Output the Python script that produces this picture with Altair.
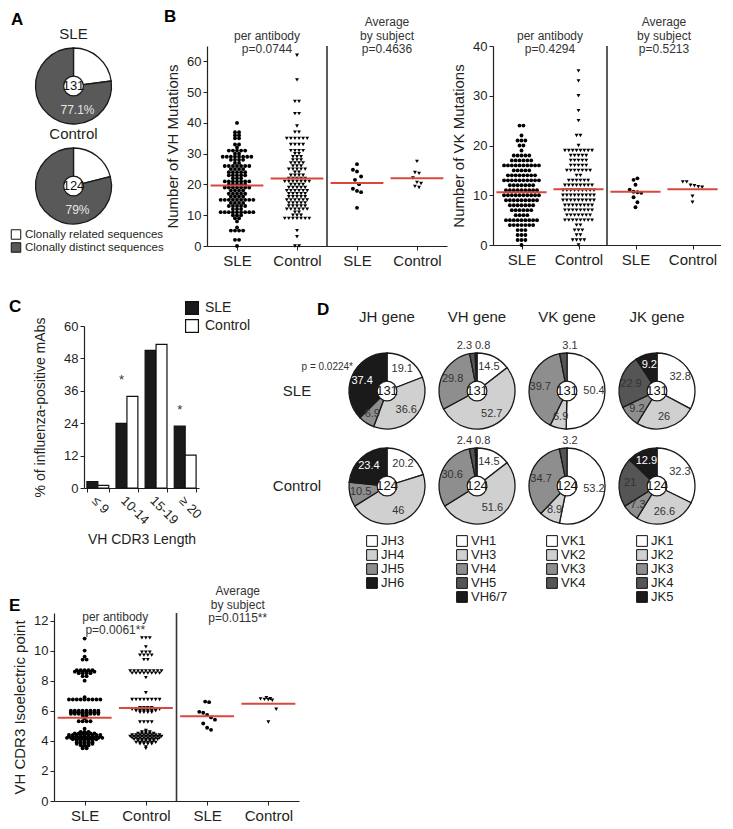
import altair as alt
import pandas as pd

FONT = "Liberation Sans"
INK = "#231f20"
RED = "#d9473e"

# ---------------- Panel A data ----------------
A_GROUPS = ["SLE", "Control"]
A_TOTALS = [131, 124]
A_SEGMENTS = ["Clonally related sequences", "Clonally distinct sequences"]
A_RELATED = [22.9, 21.0]
A_DISTINCT = [77.1, 79.0]
A_DISTINCT_LABELS = ["77.1%", "79%"]
A_COLORS = ["#ffffff", "#595959"]

# ---------------- Panel B data ----------------
CATEGORIES = ["SLE", "Control", "SLE", "Control"]

VH_SLE_LEVELS = [0, 2, 5, 6, 8, 9, 10, 11, 12, 13, 14, 15, 16, 17, 18, 19, 20, 21, 22, 23, 24,
                 25, 26, 27, 28, 29, 30, 31, 32, 33, 35, 36, 37, 40]
VH_SLE_COUNTS = [1, 2, 4, 1, 1, 2, 3, 9, 3, 5, 4, 9, 4, 5, 4, 7, 5, 7, 3, 5, 5,
                 4, 7, 2, 4, 8, 2, 5, 1, 2, 2, 2, 2, 1]
VH_CTL_LEVELS = [0, 3, 5, 9, 10, 11, 12, 13, 14, 15, 16, 17, 18, 19, 20, 21, 22, 23, 24, 25,
                 26, 27, 28, 29, 30, 31, 33, 35, 37, 39, 43, 47, 54, 62]
VH_CTL_COUNTS = [2, 1, 1, 7, 3, 2, 6, 5, 5, 6, 5, 5, 6, 5, 4, 7, 5, 4, 2, 5,
                 3, 4, 3, 3, 2, 4, 4, 6, 2, 1, 2, 2, 1, 1]
VH_AVG_SLE = [26.6, 24.8, 24.2, 22.6, 21.5, 20.1, 18.6, 17.9, 17.5, 12.4]
VH_AVG_CTL = [27.5, 23.9, 23.6, 22.1, 20.7, 20.3, 19.4, 19.0]
VH_MEANS = [19.7, 21.9, 20.5, 22.0]
VH_TITLES = [["per antibody", "p=0.0744"], ["Average", "by subject", "p=0.4636"]]

VK_SLE_LEVELS = [0, 1, 2, 3, 4, 5, 6, 7, 8, 9, 10, 11, 12, 13, 14, 15, 16, 17, 18, 19, 20, 21, 22, 24]
VK_SLE_COUNTS = [1, 3, 3, 3, 7, 9, 4, 6, 7, 9, 10, 9, 7, 10, 8, 5, 10, 6, 5, 1, 2, 3, 1, 2]
VK_CTL_LEVELS = [0, 1, 2, 3, 4, 5, 6, 7, 8, 9, 10, 11, 12, 13, 14, 15, 16, 17, 18, 19, 20,
                 22, 25, 27, 30, 33, 35]
VK_CTL_COUNTS = [1, 4, 2, 3, 2, 8, 7, 8, 8, 9, 9, 9, 8, 6, 2, 7, 5, 5, 5, 8, 1,
                 2, 1, 1, 1, 1, 1]
VK_AVG_SLE = [13.1, 13.4, 12.1, 11.1, 10.7, 10.6, 10.5, 9.6, 8.6, 7.6]
VK_AVG_CTL = [12.7, 12.7, 12.0, 11.9, 11.7, 11.6, 9.8, 8.6]
VK_MEANS = [10.6, 11.2, 10.7, 11.2]
VK_TITLES = [["per antibody", "p=0.4294"], ["Average", "by subject", "p=0.5213"]]

# ---------------- Panel C data ----------------
C_LENGTHS = ["≤ 9", "10-14", "15-19", "≥ 20"]
C_GROUPS = ["SLE", "Control"]
C_COLORS = ["#1a1a1a", "#ffffff"]
C_SLE = [2.4, 23.9, 51.0, 22.9]
C_CONTROL = [1.0, 33.9, 53.2, 12.2]
C_STARS = ["", "*", "", "*"]

# ---------------- Panel D data ----------------
D_GENES = ["JH gene", "VH gene", "VK gene", "JK gene"]
D_GROUPS = ["SLE", "Control"]
D_TOTALS = [131, 124]
JH_SEGMENTS = ["JH3", "JH4", "JH5", "JH6"]
JH_SLE = [19.1, 36.6, 6.9, 37.4]
JH_CTL = [20.2, 46, 10.5, 23.4]
VH_SEGMENTS = ["VH1", "VH3", "VH4", "VH5", "VH6/7"]
VH_SLE = [14.5, 52.7, 29.8, 2.3, 0.8]
VH_CTL = [14.5, 51.6, 30.6, 2.4, 0.8]
VK_SEGMENTS = ["VK1", "VK2", "VK3", "VK4"]
VK_SLE = [50.4, 6.9, 39.7, 3.1]
VK_CTL = [53.2, 8.9, 34.7, 3.2]
JK_SEGMENTS = ["JK1", "JK2", "JK3", "JK4", "JK5"]
JK_SLE = [32.8, 26, 9.2, 22.9, 9.2]
JK_CTL = [32.3, 26.6, 7.3, 21, 12.9]
D_PVALUE = "p = 0.0224*"

# ---------------- Panel E data ----------------
E_SLE_LEVELS = [3.5, 3.6, 3.7, 3.8, 3.9, 4.0, 4.1, 4.2, 4.3, 4.4, 4.5, 4.6, 4.8, 5.3, 5.5, 5.7,
                5.8, 5.9, 6.0, 6.75, 6.9, 8.0, 8.3, 8.5, 8.6, 8.7, 9.4, 9.6, 10.0, 10.8]
E_SLE_COUNTS = [2, 2, 3, 5, 5, 5, 7, 10, 9, 9, 6, 3, 1, 4, 1, 2,
                8, 8, 8, 9, 1, 1, 2, 4, 6, 5, 2, 1, 1, 1]
E_CTL_LEVELS = [3.5, 3.6, 3.8, 3.9, 4.0, 4.1, 4.2, 4.3, 4.4, 4.5, 4.6, 4.7, 5.25, 5.9, 6.0,
                6.1, 6.2, 6.75, 7.2, 8.2, 8.5, 8.65, 9.4, 9.7, 9.9, 10.25, 10.85]
E_CTL_COUNTS = [1, 1, 4, 6, 5, 7, 8, 9, 8, 5, 3, 1, 4, 4, 6,
                8, 4, 8, 1, 1, 8, 9, 2, 4, 3, 1, 3]
E_AVG_SLE = [6.61, 6.57, 5.93, 5.87, 5.72, 5.56, 5.41, 5.15, 4.87, 4.73]
E_AVG_CTL = [6.87, 6.80, 6.79, 6.76, 6.74, 6.70, 6.10, 5.25]
E_MEANS = [5.53, 6.18, 5.63, 6.46]
E_TITLES = [["per antibody", "p=0.0061**"], ["Average", "by subject", "p=0.0115**"]]

PANEL_LETTERS = ["A", "B", "C", "D", "E"]

WHITE, LIGHT, MID, DARK, BLACK = "#ffffff", "#d0d0d0", "#8e8e8e", "#555555", "#1a1a1a"


def expand(levels, counts):
    out = []
    for v, c in zip(levels, counts):
        out.extend([v] * c)
    return out


def text_layer(t, x, y, **kw):
    return alt.Chart(pd.DataFrame({"t": [t]})).mark_text(**kw).encode(
        x=alt.value(x), y=alt.value(y), text="t:N")


def letter_layer(t, x, y):
    return text_layer(t, x, y, align="left", baseline="top", fontSize=17, fontWeight="bold",
                      color="#000")


def spacer():
    return alt.Chart(pd.DataFrame({"t": [""]})).mark_text().encode(
        x=alt.value(0), y=alt.value(0), text="t:N").properties(width=1, height=1)


def swarm_panel(pa_sle, pa_ctl, av_sle, av_ctl, means, titles, title_y, ydomain, yticks,
                ytitle, width, height, bw_pa, bw_av, step, letter=None, size=15):
    rows = []
    for cat, vals in enumerate([pa_sle, pa_ctl, av_sle, av_ctl], start=1):
        rows += [{"cat": cat, "grp": CATEGORIES[cat - 1], "v": v} for v in vals]
    df = pd.DataFrame(rows)
    xs = alt.Scale(domain=[0.5, 4.5], nice=False, zero=False)
    ys = alt.Scale(domain=ydomain, nice=False, zero=True)
    label_expr = "[" + ",".join("'%s'" % c for c in [""] + CATEGORIES) + "][datum.value]"
    xaxis = alt.Axis(values=[1, 2, 3, 4], labelExpr=label_expr, title=None, labelFontSize=15,
                     tickSize=4, labelPadding=3, grid=False)
    yaxis = alt.Axis(values=yticks, title=ytitle, titleFontSize=15, labelFontSize=13,
                     tickSize=4, grid=False, titlePadding=6)

    sep = alt.Chart(pd.DataFrame({"sep": [2.5]})).mark_rule(color="#333", strokeWidth=1.6).encode(
        x=alt.X("sep:Q", scale=xs, axis=xaxis))

    pts = alt.Chart(df).transform_calculate(
        yb="round(datum.v / (datum.cat <= 2 ? %s : %s))" % (bw_pa, bw_av)
    ).transform_window(
        rn="row_number()", groupby=["cat", "yb"]
    ).transform_joinaggregate(
        cnt="count()", groupby=["cat", "yb"]
    ).transform_calculate(
        xp="datum.cat + (datum.rn - (datum.cnt + 1) / 2) * %s" % step
    ).mark_point(filled=True, size=size, opacity=1, color="#000").encode(
        x=alt.X("xp:Q", scale=xs, axis=xaxis),
        y=alt.Y("v:Q", scale=ys, axis=yaxis),
        shape=alt.Shape("grp:N", scale=alt.Scale(domain=["SLE", "Control"],
                                                 range=["circle", "triangle-down"]), legend=None),
    )

    mdf = pd.DataFrame({"cat": [1, 2, 3, 4], "m": means})
    rules = alt.Chart(mdf).transform_calculate(
        x1="datum.cat - 0.44", x2="datum.cat + 0.44"
    ).mark_rule(color=RED, strokeWidth=2).encode(
        x=alt.X("x1:Q", scale=xs, axis=xaxis), x2="x2:Q",
        y=alt.Y("m:Q", scale=ys, axis=yaxis))

    layers = [sep, pts, rules]
    for pos, lines, ty in zip([1.5, 3.5], titles, title_y):
        n = len(lines)
        for k, line in enumerate(lines):
            layers.append(
                alt.Chart(pd.DataFrame({"x": [pos], "t": [line]})).mark_text(
                    baseline="bottom", fontSize=12, color="#333"
                ).encode(x=alt.X("x:Q", scale=xs, axis=xaxis),
                         y=alt.value(ty - (n - 1 - k) * 13.5), text="t:N"))
    if letter is not None:
        layers.append(letter)
    return alt.layer(*layers).properties(width=width, height=height)


def pie(segments, values, colors, total, *, view_w=80, label_texts=None,
        small=(), extras=()):
    df = pd.DataFrame({"seg": segments, "value": values, "idx": list(range(len(segments)))})
    if label_texts is None:
        label_texts = ["%g" % v if v >= 4 else "" for v in values]
    df["lab"] = label_texts
    theta = alt.Theta("value:Q", stack=True)
    order = alt.Order("idx:Q")
    base = alt.Chart(df)
    arcs = base.mark_arc(outerRadius=38, stroke="#1a1a1a", strokeWidth=1.3).encode(
        theta=theta, order=order,
        color=alt.Color("seg:N", scale=alt.Scale(domain=segments, range=colors),
                        legend=None, sort=segments))
    dark = [i for i, c in enumerate(colors) if c in (BLACK,)]
    labels = base.mark_text(radius=27, fontSize=11).encode(
        theta=theta, order=order, text="lab:N",
        color=alt.condition("indexof(%s, datum.idx) >= 0" % dark, alt.value("white"),
                            alt.value("#333")))
    cdf = pd.DataFrame({"n": [str(total)]})
    circ = alt.Chart(cdf).mark_circle(size=390, color="white", stroke="#1a1a1a",
                                      strokeWidth=1.2, opacity=1).encode(tooltip="n:N")
    ctext = alt.Chart(cdf).mark_text(fontSize=13, color="#111").encode(text="n:N")
    layers = [arcs, labels, circ, ctext]
    for idx, align, dx in small:
        layers.append(alt.Chart(pd.DataFrame({"t": ["%g" % values[idx]]})).mark_text(
            align=align, dx=dx, dy=-45, fontSize=11, color="#333").encode(text="t:N"))
    for layer in extras:
        layers.append(layer)
    return alt.layer(*layers).properties(width=view_w, height=80)


def center_text(t, **kw):
    return alt.Chart(pd.DataFrame({"t": [t]})).mark_text(**kw).encode(text="t:N")


def legend_block(labels, colors, width, sw_x, row_h, sym_size, font_size, padding):
    df = pd.DataFrame({"lab": labels})
    ysc = alt.Scale(domain=labels, padding=padding)
    sq = alt.Chart(df).mark_square(size=sym_size, stroke="#111", strokeWidth=1, opacity=1).encode(
        x=alt.value(sw_x), y=alt.Y("lab:N", sort=labels, scale=ysc, axis=None),
        color=alt.Color("lab:N", scale=alt.Scale(domain=labels, range=colors), legend=None))
    tx = alt.Chart(df).mark_text(align="left", dx=9, fontSize=font_size, color=INK).encode(
        x=alt.value(sw_x), y=alt.Y("lab:N", sort=labels, scale=ysc, axis=None), text="lab:N")
    n = len(labels)
    h = row_h * (n - 1 + 2 * padding)
    return alt.layer(sq, tx).properties(width=width, height=h)


def res(c):
    return c.resolve_scale(color="independent", theta="independent", shape="independent")


# ---------------- Panel A ----------------
a_pies = []
for i in range(2):
    ex = [center_text(A_GROUPS[i], dy=-52, fontSize=15, color=INK),
          center_text(A_DISTINCT_LABELS[i], dx=4, dy=24, fontSize=12, color="#e6e6e6")]
    if i == 0:
        ex.append(letter_layer(PANEL_LETTERS[0], 0, -34))
    a_pies.append(pie(A_SEGMENTS, [A_RELATED[i], A_DISTINCT[i]], A_COLORS, A_TOTALS[i],
                      view_w=125, label_texts=["", ""], extras=ex))
a_leg = legend_block(A_SEGMENTS, A_COLORS, 140, 5, 13, 90, 11.5, 0.5)
panel_a = res(alt.vconcat(a_pies[0], a_pies[1], a_leg, spacing=0))

# ---------------- Panel B ----------------
vh = swarm_panel(expand(VH_SLE_LEVELS, VH_SLE_COUNTS), expand(VH_CTL_LEVELS, VH_CTL_COUNTS),
                 VH_AVG_SLE, VH_AVG_CTL, VH_MEANS, VH_TITLES, [10, 10], [0, 65],
                 [0, 10, 20, 30, 40, 50, 60], "Number of VH Mutations", 240, 200, 1, 3, 0.068,
                 letter_layer(PANEL_LETTERS[1], -43, -37))
vk = swarm_panel(expand(VK_SLE_LEVELS, VK_SLE_COUNTS), expand(VK_CTL_LEVELS, VK_CTL_COUNTS),
                 VK_AVG_SLE, VK_AVG_CTL, VK_MEANS, VK_TITLES, [10, 10], [0, 40],
                 [0, 10, 20, 30, 40], "Number of VK Mutations", 228, 199, 1, 1.5, 0.068)
panel_b = res(alt.hconcat(vh, vk, spacing=4))

# ---------------- Panel C ----------------
c_df = pd.DataFrame({"len": C_LENGTHS * 2, "grp": ["SLE"] * 4 + ["Control"] * 4,
                     "pct": C_SLE + C_CONTROL})
c_xs = alt.Scale(paddingInner=0.25, paddingOuter=0.1)
c_xaxis = alt.Axis(title="VH CDR3 Length", labelAngle=45, labelFontSize=13, titleFontSize=14,
                   tickBand="extent", tickSize=4, titlePadding=6)
c_yaxis = alt.Axis(values=[0, 12, 24, 36, 48, 60], title="% of influenza-positive mAbs",
                   labelFontSize=13, titleFontSize=14, tickSize=4, titlePadding=16)
c_ys = alt.Scale(domain=[0, 60], nice=False)
c_bars = alt.Chart(c_df).mark_bar(stroke="#111", strokeWidth=1.2).encode(
    x=alt.X("len:N", sort=C_LENGTHS, scale=c_xs, axis=c_xaxis),
    xOffset=alt.XOffset("grp:N", sort=C_GROUPS),
    y=alt.Y("pct:Q", scale=c_ys, axis=c_yaxis),
    color=alt.Color("grp:N", sort=C_GROUPS, scale=alt.Scale(domain=C_GROUPS, range=C_COLORS),
                    legend=None))
s_df = pd.DataFrame({"len": C_LENGTHS, "star": C_STARS,
                     "top": [max(a, b) for a, b in zip(C_SLE, C_CONTROL)], "grp": "SLE"})
c_stars = alt.Chart(s_df).transform_calculate(ys="datum.top + 6").mark_text(
    fontSize=13, color="#333", baseline="middle").encode(
    x=alt.X("len:N", sort=C_LENGTHS, scale=c_xs, axis=c_xaxis),
    xOffset=alt.XOffset("grp:N", sort=C_GROUPS),
    y=alt.Y("ys:Q", scale=c_ys, axis=c_yaxis), text="star:N")
c_layers = [c_bars, c_stars]
for i, g in enumerate(C_GROUPS):
    gdf = pd.DataFrame({"t": [g]})
    c_layers.append(alt.Chart(gdf).mark_square(size=165, color=C_COLORS[i], stroke="#111",
                                               strokeWidth=1.2, opacity=1).encode(
        x=alt.value(108), y=alt.value(-18 + 18 * i), tooltip="t:N"))
    c_layers.append(alt.Chart(gdf).mark_text(align="left", dx=13, fontSize=14, color=INK).encode(
        x=alt.value(108), y=alt.value(-18 + 18 * i), text="t:N"))
c_layers.append(letter_layer(PANEL_LETTERS[2], -75, -27))
panel_c = alt.layer(*c_layers).properties(width=115, height=162)

# ---------------- Panel D ----------------
gene_specs = [
    (JH_SEGMENTS, JH_SLE, JH_CTL, [WHITE, LIGHT, MID, BLACK], ()),
    (VH_SEGMENTS, VH_SLE, VH_CTL, [WHITE, LIGHT, MID, DARK, BLACK],
     ((3, "right", -5), (4, "left", -2))),
    (VK_SEGMENTS, VK_SLE, VK_CTL, [WHITE, LIGHT, MID, DARK], ((3, "center", 3),)),
    (JK_SEGMENTS, JK_SLE, JK_CTL, [WHITE, LIGHT, MID, DARK, BLACK], ()),
]
cols = []
for g, (segs, v_sle, v_ctl, colors, small) in enumerate(gene_specs):
    head_layers = [text_layer(D_GENES[g], 40, -9, fontSize=15, color=INK)]
    if g == 0:
        head_layers.append(letter_layer(PANEL_LETTERS[3], -30, -24))
    head = alt.layer(*head_layers).properties(width=80, height=10)
    pies = []
    for r, vals in enumerate([v_sle, v_ctl]):
        extras = []
        if g == 0:
            extras.append(center_text(D_GROUPS[r], dx=-90, fontSize=15, color=INK))
            if r == 0:
                extras.append(center_text(D_PVALUE, dx=-34, dy=-24, align="right", fontSize=10,
                                          color="#333"))
        pies.append(pie(segs, vals, colors, D_TOTALS[r], small=small, extras=extras))
    leg = legend_block(segs, colors, 80, 25, 14, 115, 13, 0)
    cols.append(res(alt.vconcat(head, pies[0], pies[1], leg, spacing=15, bounds="flush")))
panel_d = res(alt.hconcat(*cols, spacing=8))

# ---------------- Panel E ----------------
panel_e = swarm_panel(expand(E_SLE_LEVELS, E_SLE_COUNTS), expand(E_CTL_LEVELS, E_CTL_COUNTS),
                      E_AVG_SLE, E_AVG_CTL, E_MEANS, E_TITLES, [24, 12], [0, 12.5],
                      [0, 2, 4, 6, 8, 10, 12], "VH CDR3 Isoelectric point", 245, 188, 0.1, 0.8,
                      0.064, letter_layer(PANEL_LETTERS[4], -45, -15))

row1 = res(alt.hconcat(spacer(), res(alt.hconcat(panel_a, panel_b, spacing=0)), spacing=0))
row2 = res(alt.hconcat(spacer(), res(alt.hconcat(panel_c, panel_d, spacing=21)), spacing=0))
row3 = res(alt.hconcat(spacer(), panel_e, spacing=0))
upper = res(alt.vconcat(row1, row2, spacing=30))
chart = res(alt.vconcat(upper, row3, spacing=-20)).properties(
    padding={"left": 0, "top": 0, "right": 0, "bottom": 0}
).configure_view(stroke=None).configure_axis(
    labelFont=FONT, titleFont=FONT, labelColor=INK, titleColor=INK, domainColor="#222",
    tickColor="#222", grid=False, titleFontWeight="normal", domainWidth=1.2
).configure_title(font=FONT).configure_text(font=FONT)

chart.save("out.html", embed_options={"renderer": "svg", "actions": False})
